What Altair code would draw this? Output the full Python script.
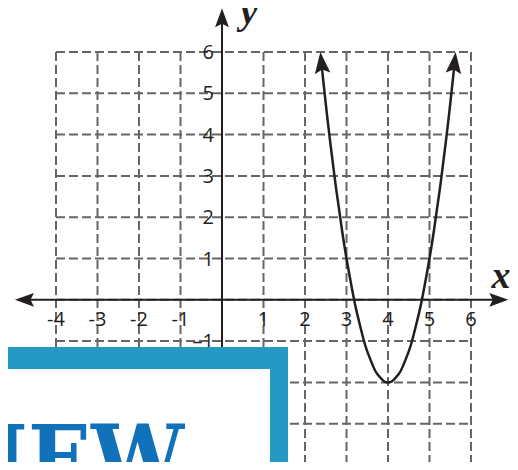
import altair as alt
import pandas as pd

# ---- data ----
x_ticks = [-4, -3, -2, -1, 1, 2, 3, 4, 5, 6]
x_tick_text = ["-4", "-3", "-2", "-1", "1", "2", "3", "4", "5", "6"]
y_ticks = [-1, 1, 2, 3, 4, 5, 6]
y_tick_text = ["–1", "1", "2", "3", "4", "5", "6"]
grid_values = [-4, -3, -2, -1, 0, 1, 2, 3, 4, 5, 6]

curve_x = [2.40, 2.50, 2.60, 2.75, 2.90, 3.00, 3.15, 3.25, 3.40, 3.50, 3.65, 3.75, 3.90, 4.00,
           4.10, 4.25, 4.35, 4.50, 4.60, 4.75, 4.85, 5.00, 5.10, 5.25, 5.40, 5.50, 5.60]
curve_y = [5.68, 4.75, 3.88, 2.69, 1.63, 1.00, 0.17, -0.31, -0.92, -1.25, -1.63, -1.81, -1.97, -2.00,
           -1.97, -1.81, -1.63, -1.25, -0.92, -0.31, 0.17, 1.00, 1.63, 2.69, 3.88, 4.75, 5.68]

curve_tip_x = [2.37, 5.63]
curve_tip_y = [6.0, 6.0]
curve_tip_angle = [354, 6]

axis_tip_x = [-4.99, 6.90, 0.0]
axis_tip_y = [0.0, 0.0, 7.06]
axis_tip_angle = [270, 90, 0]

word = "REVIEW"

# ---- tables ----
ticks_x_df = pd.DataFrame({"x": x_ticks, "label": x_tick_text, "y": [0] * len(x_ticks)})
ticks_y_df = pd.DataFrame({"y": y_ticks, "label": y_tick_text, "x": [0] * len(y_ticks)})
curve_df = pd.DataFrame({"x": curve_x, "y": curve_y})
ctip_df = pd.DataFrame({"x": curve_tip_x, "y": curve_tip_y, "angle": curve_tip_angle})
atip_df = pd.DataFrame({"x": axis_tip_x, "y": axis_tip_y, "angle": axis_tip_angle})
xaxis_df = pd.DataFrame({"x": [-4.9], "x2": [6.8], "y": [0]})
yaxis_df = pd.DataFrame({"x": [0], "y": [-1.3], "y2": [6.9]})
grid_df = pd.DataFrame({"v": grid_values})

# plot area: x -4..6 over 415 px, y 6..-3.927 over 410 px (41.3 px per unit)
xs = alt.Scale(domain=[-4, 6], nice=False, zero=False)
ys = alt.Scale(domain=[-3.927, 6], nice=False, zero=False)

INK = "#231f20"
GRID = "#666666"
ARROW = "M0,0 L0.8,2.2 L0,1.8 L-0.8,2.2 Z"

grid_v = alt.Chart(grid_df).mark_rule(color=GRID, strokeWidth=2, strokeDash=[9, 4]).encode(
    x=alt.X("v:Q", scale=xs, axis=None), y=alt.value(0), y2=alt.value(420)
)
grid_h = alt.Chart(grid_df).mark_rule(color=GRID, strokeWidth=2, strokeDash=[9, 4]).encode(
    y=alt.Y("v:Q", scale=ys, axis=None), x=alt.value(0), x2=alt.value(415)
)

x_axis = alt.Chart(xaxis_df).mark_rule(color=INK, strokeWidth=2).encode(
    x=alt.X("x:Q", scale=xs), x2="x2:Q", y=alt.Y("y:Q", scale=ys)
)
y_axis = alt.Chart(yaxis_df).mark_rule(color=INK, strokeWidth=2).encode(
    x=alt.X("x:Q", scale=xs), y=alt.Y("y:Q", scale=ys), y2="y2:Q"
)

axis_tips = alt.Chart(atip_df).mark_point(shape=ARROW, filled=True, color=INK, opacity=1, size=300, strokeWidth=0).encode(
    x=alt.X("x:Q", scale=xs), y=alt.Y("y:Q", scale=ys), angle=alt.Angle("angle:Q", scale=None)
)

curve = alt.Chart(curve_df).mark_line(color=INK, strokeWidth=2.5, interpolate="natural").encode(
    x=alt.X("x:Q", scale=xs), y=alt.Y("y:Q", scale=ys)
)
curve_tips = alt.Chart(ctip_df).mark_point(shape=ARROW, filled=True, color=INK, opacity=1, size=380, strokeWidth=0).encode(
    x=alt.X("x:Q", scale=xs), y=alt.Y("y:Q", scale=ys), angle=alt.Angle("angle:Q", scale=None)
)

xlabels = alt.Chart(ticks_x_df).mark_text(font="Open Sans", fontSize=20, color=INK, baseline="middle", dy=20).encode(
    x=alt.X("x:Q", scale=xs), y=alt.Y("y:Q", scale=ys), text="label:N"
)
ylabels = alt.Chart(ticks_y_df).mark_text(font="Open Sans", fontSize=20, color=INK, baseline="middle", align="right", dx=-8, dy=1).encode(
    x=alt.X("x:Q", scale=xs), y=alt.Y("y:Q", scale=ys), text="label:N"
)

ytitle = alt.Chart(pd.DataFrame({"t": ["y"]})).mark_text(
    font="Liberation Serif", fontStyle="italic", fontWeight="bold", fontSize=38, color=INK, baseline="alphabetic", align="center"
).encode(x=alt.value(193), y=alt.value(-28), text="t:N")
xtitle = alt.Chart(pd.DataFrame({"t": ["x"]})).mark_text(
    font="Liberation Serif", fontStyle="italic", fontWeight="bold", fontSize=38, color=INK, baseline="alphabetic", align="center"
).encode(x=alt.value(445), y=alt.value(236), text="t:N")

box_outer = alt.Chart(pd.DataFrame({"a": [1]})).mark_rect(color="#2499c4").encode(
    x=alt.value(-60), x2=alt.value(232), y=alt.value(295), y2=alt.value(500)
)
box_inner = alt.Chart(pd.DataFrame({"a": [1]})).mark_rect(color="#ffffff").encode(
    x=alt.value(-60), x2=alt.value(214), y=alt.value(317), y2=alt.value(500)
)
box_word = alt.Chart(pd.DataFrame({"t": [word]})).mark_text(
    font="DejaVu Serif Condensed", fontWeight="bold", fontSize=92, color="#1171b9", align="right", baseline="alphabetic"
).encode(x=alt.value(128), y=alt.value(439), text="t:N")

chart = alt.layer(
    grid_v, grid_h, x_axis, y_axis, axis_tips, curve, curve_tips, xlabels, ylabels, ytitle, xtitle,
    box_outer, box_inner, box_word
).properties(
    width=415, height=410,
    padding={"left": 48, "top": 44, "right": 39, "bottom": 0},
    autosize=alt.AutoSizeParams(type="none"),
).configure_view(strokeWidth=0)

chart.save("out.html", embed_options={"renderer": "svg", "actions": False})
